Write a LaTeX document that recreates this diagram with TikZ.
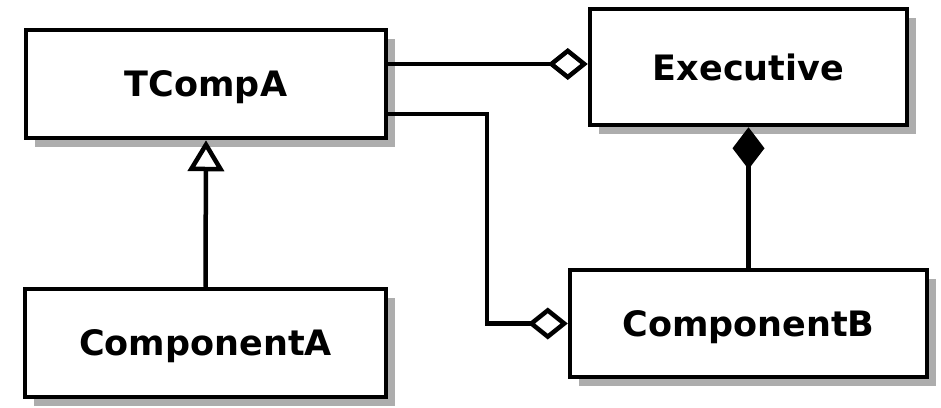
\documentclass[tikz,border=0pt]{standalone}
\usepackage{fontspec}
\setmainfont{DejaVu Sans}
\usetikzlibrary{arrows.meta,shadows}

\tikzset{
	klasse/.style={draw, line width=4.5pt, fill=white, inner sep=0pt,
		font=\fontsize{35}{42}\selectfont\bfseries, text depth=0pt,
		drop shadow={shadow xshift=9pt, shadow yshift=-9pt, fill=black!32, opacity=1}},
	linie/.style={line width=4.5pt},
	aggr/.style={linie, -{Diamond[open, fill=white, length=40pt, width=32pt]}},
	komp/.style={linie, -{Diamond[length=42pt, width=32pt]}},
	erbt/.style={linie, -{Triangle[open, fill=white, length=31pt, width=36pt]}}
}

\begin{document}
\begin{tikzpicture}[x=1pt, y=-1pt]
		\useasboundingbox (0, 0) rectangle (941, 407);
		% Klassen
		\node [klasse, minimum width=360pt, minimum height=108pt] (tcompa) at (206, 84) {TCompA};
		\node [klasse, minimum width=317pt, minimum height=116pt] (executive) at (748.5, 67) {Executive};
		\node [klasse, minimum width=361pt, minimum height=108pt] (componenta) at (205.5, 343) {ComponentA};
		\node [klasse, minimum width=357pt, minimum height=107pt] (componentb) at (748.5, 323.5) {ComponentB};
		% Linien
		\coordinate (knick) at (487, 114);
		\draw [aggr] ([yshift=20pt]tcompa.east) -- ([yshift=20pt]tcompa.east -| executive.west);
		\draw [aggr] ([yshift=-30pt]tcompa.east) -- (knick) |- (componentb.west);
		\draw [erbt] (componenta.north) -- (tcompa.south);
		\draw [komp] (componentb.north) -- (executive.south);
	\end{tikzpicture}
\end{document}
